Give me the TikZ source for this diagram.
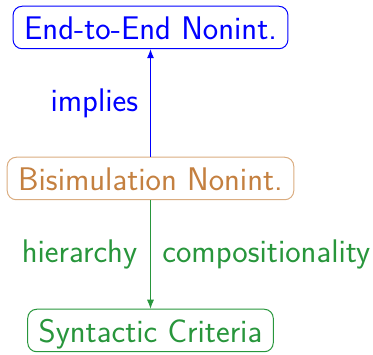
\documentclass[tikz,border=0pt]{standalone}
\usetikzlibrary{arrows.meta}
\definecolor{cblue}{RGB}{0,0,255}
\definecolor{cbrown}{RGB}{196,128,64}
\definecolor{cbrownb}{RGB}{218,172,128}
\definecolor{cgreen}{RGB}{40,150,60}
\begin{document}
\begin{tikzpicture}[x=1pt,y=-1pt,
  font=\sffamily\fontsize{32.7}{39}\selectfont,
  box/.style={draw, rounded corners=9pt, line width=1pt, inner xsep=11pt, inner ysep=9.5pt, text height=23.5pt, text depth=0pt},
  lab/.style={inner sep=0pt},
  conn/.style={line width=0.8pt, -{Latex[length=9pt,width=7pt]}}]
\useasboundingbox (0,0) rectangle (373,355);
\node[box, draw=cblue, text=cblue] (e2e) at (150.5,27.5) {End-to-End Nonint.};
\node[box, draw=cbrownb, text=cbrown] (bis) at (150.5,178.5) {Bisimulation Nonint.};
\node[box, draw=cgreen, text=cgreen] (syn) at (150.5,330.5) {Syntactic Criteria};
\draw[conn, cblue] (bis) -- (e2e)
  node[lab, midway, anchor=east, xshift=-12pt, text=cblue] {implies};
\draw[conn, cgreen] (bis) -- (syn)
  node[lab, midway, anchor=east, xshift=-13pt, text=cgreen] {hierarchy}
  node[lab, midway, anchor=west, xshift=11.5pt, text=cgreen] {compositionality};
\end{tikzpicture}
\end{document}
